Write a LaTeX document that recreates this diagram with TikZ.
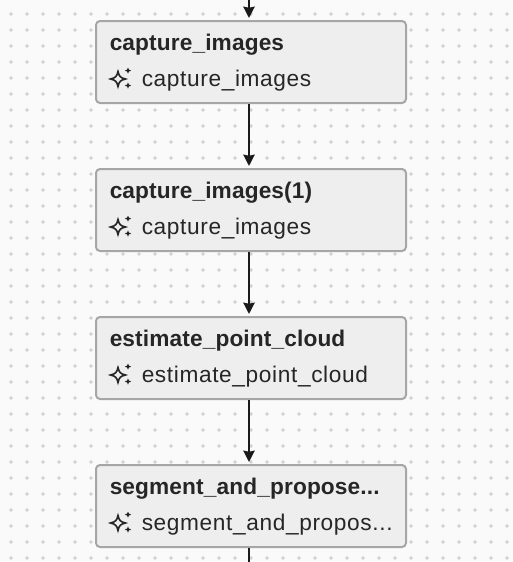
\documentclass[tikz,border=0pt]{standalone}
\usepackage{fontspec}
\setmainfont{Liberation Sans}
\newfontfamily\subfont[LetterSpace=2.8]{Liberation Sans}
\newfontfamily\titlefont[LetterSpace=0.6]{Liberation Sans}
\usetikzlibrary{arrows.meta}
\definecolor{bgc}{HTML}{FAFAFA}
\definecolor{dotc}{HTML}{CFCFCF}
\definecolor{boxf}{HTML}{EEEEEE}
\definecolor{boxd}{HTML}{A6A6A6}
\definecolor{inkc}{HTML}{262626}
\definecolor{linec}{HTML}{1A1A1A}
\tikzset{
  x=0.75pt,y=-0.75pt,
  boxnode/.style={draw=boxd,fill=boxf,line width=1.5pt,rounded corners=3pt,minimum width=232.5pt,minimum height=61.5pt,inner sep=0pt},
  titletext/.style={anchor=base west,inner sep=0pt,text=inkc,font=\fontsize{17}{19}\titlefont\bfseries},
  subtext/.style={anchor=base west,inner sep=0pt,text=inkc,font=\fontsize{17}{19}\subfont},
  conn/.style={draw=linec,line width=1.5pt,-{Stealth[length=8.5pt,width=8.5pt,inset=0.8pt]}},
  connplain/.style={draw=linec,line width=1.5pt},
}
\newcommand{\sparkle}[2]{%
  \begin{scope}[shift={(#1,#2)}]
    \draw[inkc,line width=1.2pt,line join=miter] (0,-7.5) .. controls (1.2,-2.4) and (2.4,-1.2) .. (7.5,0) .. controls (2.4,1.2) and (1.2,2.4) .. (0,7.5) .. controls (-1.2,2.4) and (-2.4,1.2) .. (-7.5,0) .. controls (-2.4,-1.2) and (-1.2,-2.4) .. cycle;
    \fill[inkc] (10,-11.5) .. controls (10.5,-9.4) and (10.9,-9) .. (13.2,-8.4) .. controls (10.9,-7.8) and (10.5,-7.4) .. (10,-5.3) .. controls (9.5,-7.4) and (9.1,-7.8) .. (6.8,-8.4) .. controls (9.1,-9) and (9.5,-9.4) .. cycle;
    \fill[inkc] (10,3.4) .. controls (10.5,5.5) and (10.9,5.9) .. (13.2,6.5) .. controls (10.9,7.1) and (10.5,7.5) .. (10,9.6) .. controls (9.5,7.5) and (9.1,7.1) .. (6.8,6.5) .. controls (9.1,5.9) and (9.5,5.5) .. cycle;
  \end{scope}}
\begin{document}
\begin{tikzpicture}
\useasboundingbox (0,0) rectangle (512,562);
\fill[bgc] (0,0) rectangle (512,562);
\foreach \i in {0,...,31}
  \foreach \j in {0,...,34}
    \fill[dotc] ({11+16*\i},{14+16*\j}) circle[radius=1.9];
\coordinate (topend) at (249,0);
\coordinate (botend) at (249,562);
\node[boxnode] (a) at (251,62) {};
\node[boxnode] (b) at (251,210) {};
\node[boxnode] (c) at (251,358) {};
\node[boxnode] (d) at (251,506) {};
\node[titletext] (at) at (109.5,50) {capture\_images};
\node[subtext] (as) at (141.5,86) {capture\_images};
\node[titletext] (bt) at (109.5,198) {capture\_images(1)};
\node[subtext] (bs) at (141.5,234) {capture\_images};
\node[titletext] (ct) at (109.5,346) {estimate\_point\_cloud};
\node[subtext] (cs) at (141.5,382) {estimate\_point\_cloud};
\node[titletext] (dt) at (109.5,494) {segment\_and\_propose...};
\node[subtext] (ds) at (141.5,530) {segment\_and\_propos...};
\sparkle{118}{79}
\sparkle{118}{227}
\sparkle{118}{375}
\sparkle{118}{523}
\draw[conn,shorten >=1.5pt] (topend) -- ([xshift=-1.5pt]a.north);
\draw[conn,shorten >=1.5pt] ([xshift=-1.5pt]a.south) -- ([xshift=-1.5pt]b.north);
\draw[conn,shorten >=1.5pt] ([xshift=-1.5pt]b.south) -- ([xshift=-1.5pt]c.north);
\draw[conn,shorten >=1.5pt] ([xshift=-1.5pt]c.south) -- ([xshift=-1.5pt]d.north);
\draw[connplain] ([xshift=-1.5pt]d.south) -- (botend);
\end{tikzpicture}
\end{document}
